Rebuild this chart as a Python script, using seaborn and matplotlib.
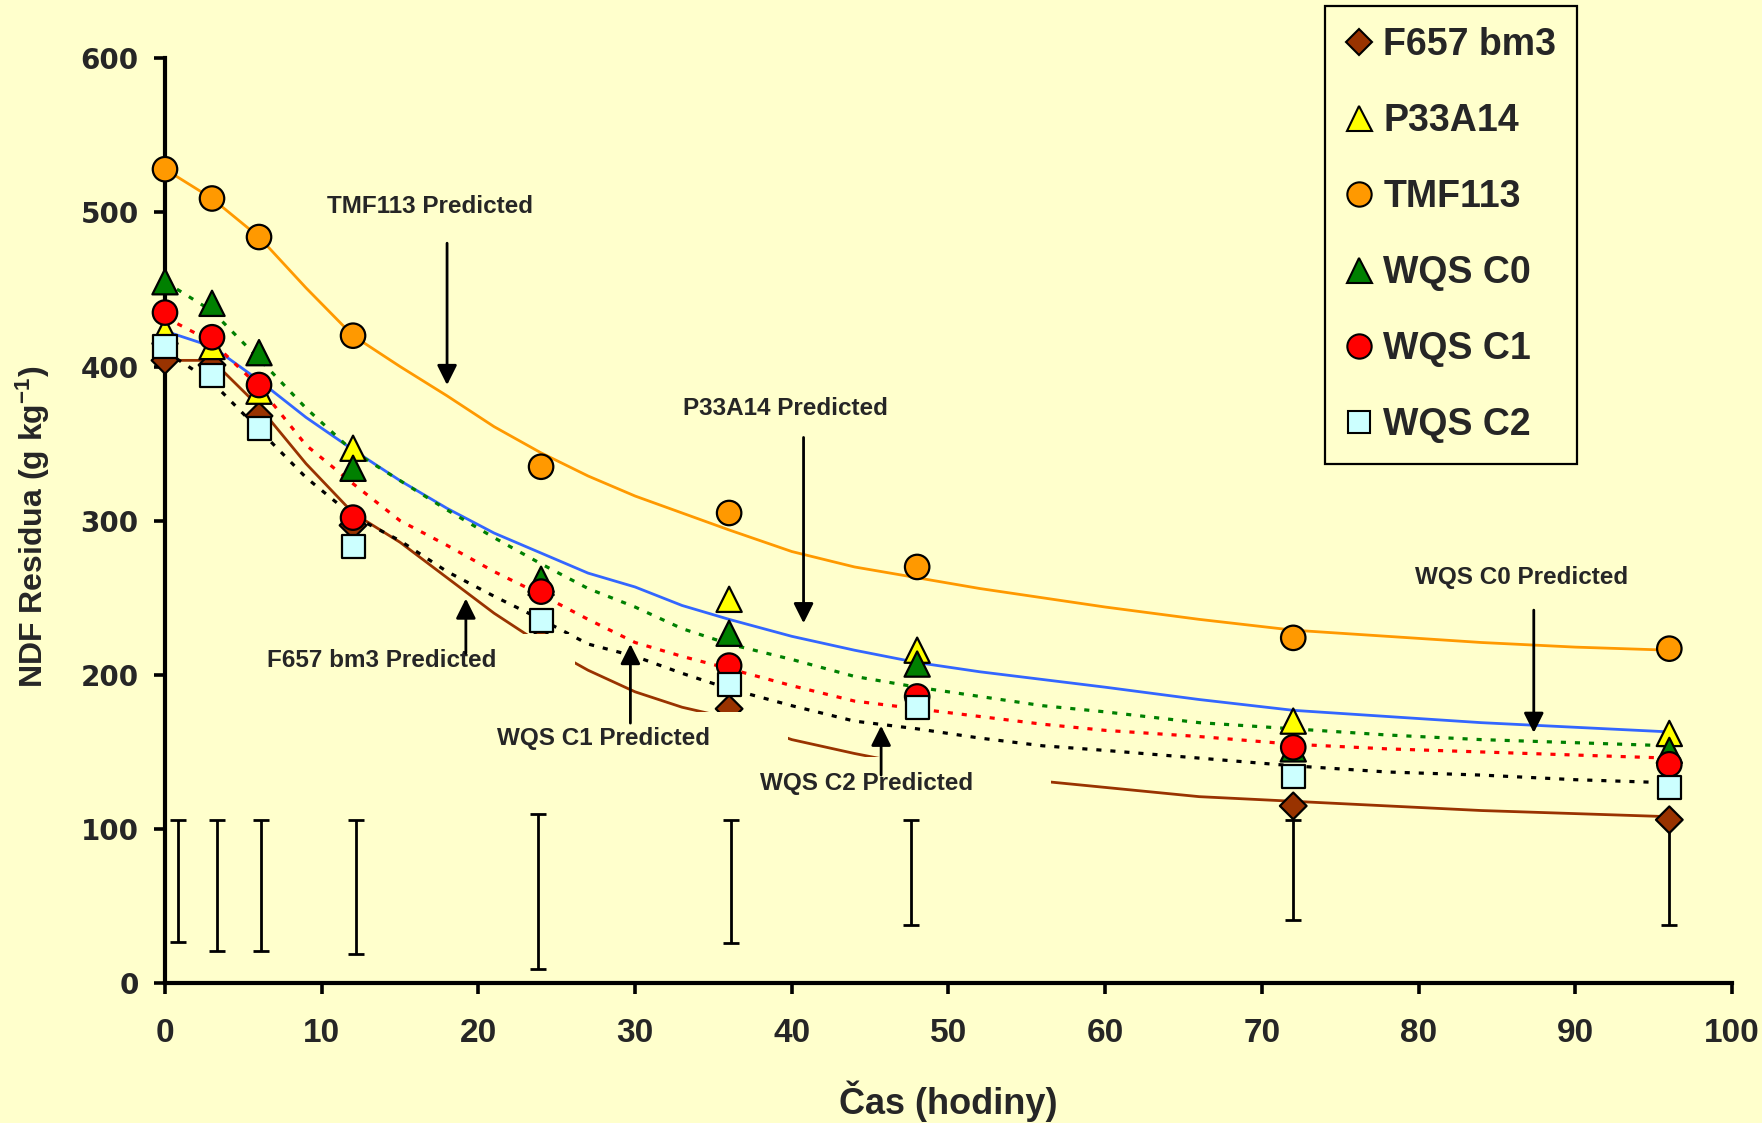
import numpy as np
import pandas as pd
import matplotlib
matplotlib.use("Agg")
import matplotlib.pyplot as plt
import seaborn as sns
from matplotlib.lines import Line2D
from matplotlib.patches import Rectangle

# ---------------- data ----------------
hours = [0, 3, 6, 12, 24, 36, 48, 72, 96]
series_names = ["F657 bm3", "P33A14", "TMF113", "WQS C0", "WQS C1", "WQS C2"]

f657_obs = [404, 401, 368, 297, 222, 178, 136, 115, 106]
p33_obs = [423, 413, 384, 347, 260, 249, 216, 170, 162]
tmf_obs = [528, 509, 484, 420, 335, 305, 270, 224, 217]
c0_obs = [455, 441, 409, 334, 262, 227, 207, 152, 151]
c1_obs = [435, 419, 388, 302, 254, 206, 186, 153, 142]
c2_obs = [413, 394, 360, 283, 235, 194, 179, 134, 127]

pred_hours = [0, 3, 6, 9, 12, 15, 18, 21, 24, 27, 30, 33, 36, 40, 44, 48,
              52, 56, 60, 66, 72, 78, 84, 90, 96]
tmf_pred = [528, 509, 484, 451, 420, 400, 381, 361, 344, 329, 316, 305, 294,
            280, 270, 263, 256, 250, 244, 236, 229, 225, 221, 218, 216]
p33_pred = [423, 413, 391, 367, 346, 326, 308, 292, 279, 266, 257, 245, 236,
            225, 216, 208, 202, 197, 192, 184, 177, 173, 169, 166, 163]
c0_pred = [455, 436, 405, 373, 345, 326, 307, 289, 272, 256, 244, 230, 220,
           210, 199, 192, 186, 180, 176, 169, 165, 161, 158, 156, 154]
c1_pred = [432, 416, 387, 349, 324, 300, 284, 267, 252, 236, 221, 212, 204,
           193, 183, 178, 173, 168, 164, 160, 155, 152, 150, 148, 146]
c2_pred = [410, 390, 359, 328, 303, 287, 267, 251, 236, 220, 212, 201, 191,
           180, 170, 165, 159, 154, 151, 146, 141, 137, 135, 132, 130]
f657_pred = [404, 404, 374, 337, 305, 286, 263, 240, 220, 203, 189, 179, 172,
             158, 149, 141, 136, 131, 127, 121, 118, 115, 112, 110, 108]

err_hours = [0.8, 3.3, 6.1, 12.2, 23.8, 36.1, 47.6, 72, 96]
err_low = [27, 21, 21, 19, 9, 26, 38, 41, 38]
err_high = [106, 106, 106, 106, 110, 106, 106, 106, 106]

x_ticks = list(range(0, 101, 10))
y_ticks = list(range(0, 601, 100))

# ---------------- style ----------------
bg = "#FFFFCC"
sns.set_theme(style="ticks", rc={"figure.facecolor": bg, "axes.facecolor": bg,
                                 "savefig.facecolor": bg})
plt.rcParams["font.family"] = ["Liberation Sans", "DejaVu Sans"]
plt.rcParams["mathtext.fontset"] = "custom"
plt.rcParams["mathtext.rm"] = "Liberation Sans:bold"
plt.rcParams["mathtext.bf"] = "Liberation Sans:bold"
plt.rcParams["mathtext.it"] = "Liberation Sans:bold:italic"

colors = {"F657 bm3": "#993300", "P33A14": "#FFFF00", "TMF113": "#FF9900",
          "WQS C0": "#008000", "WQS C1": "#FF0000", "WQS C2": "#CCFFFF"}
markers = {"F657 bm3": "D", "P33A14": "^", "TMF113": "o",
           "WQS C0": "^", "WQS C1": "o", "WQS C2": "s"}
sizes = {"F657 bm3": 185, "P33A14": 330, "TMF113": 310,
         "WQS C0": 330, "WQS C1": 310, "WQS C2": 275}

fig = plt.figure(figsize=(17.62, 11.23), dpi=100)
ax = fig.add_axes([165 / 1762, 1 - 983.2 / 1123, 1567 / 1762, 925 / 1123])

# predicted curves
dot = (0, (1.6, 2.8))
pred_specs = [
    (tmf_pred, "#FF9900", "-"),
    (p33_pred, "#3366FF", "-"),
    (f657_pred, "#993300", "-"),
    (c0_pred, "#008000", dot),
    (c1_pred, "#FF0000", dot),
    (c2_pred, "#000000", dot),
]
for vals, col, ls in pred_specs:
    lw = 2.0 if ls == "-" else 2.3
    sns.lineplot(x=pred_hours, y=vals, color=col, linestyle=ls, linewidth=lw,
                 ax=ax, zorder=2, estimator=None, sort=False)

# error bars
lo = np.array(err_low, dtype=float)
hi = np.array(err_high, dtype=float)
ax.errorbar(err_hours, lo, yerr=[np.zeros_like(lo), hi - lo], fmt="none",
            ecolor="black", elinewidth=2.0, capsize=6, capthick=2.0, zorder=2)

# observed points
obs_df = pd.DataFrame({
    "hours": hours * 6,
    "ndf": f657_obs + p33_obs + tmf_obs + c0_obs + c1_obs + c2_obs,
    "series": np.repeat(series_names, len(hours)),
})
sns.scatterplot(data=obs_df, x="hours", y="ndf", hue="series", style="series",
                size="series", sizes=sizes, markers=markers, palette=colors,
                hue_order=series_names, style_order=series_names,
                size_order=series_names, edgecolor="black", linewidth=1.6,
                legend=False, ax=ax, zorder=3, clip_on=False)

# axes styling
ax.set_xlim(0, 100)
ax.set_ylim(0, 600)
ax.set_xticks(x_ticks)
ax.set_yticks(y_ticks)
for side in ["top", "right"]:
    ax.spines[side].set_visible(False)
for side in ["left", "bottom"]:
    ax.spines[side].set_linewidth(3.0)
    ax.spines[side].set_color("black")
ax.tick_params(axis="both", direction="out", length=8, width=2.6, color="black")
ax.tick_params(axis="x", labelsize=24, pad=17)
ax.tick_params(axis="y", labelsize=20, pad=11)
for lab in ax.get_xticklabels():
    lab.set_fontweight("bold")
for lab in ax.get_yticklabels():
    lab.set_fontweight("bold")
    lab.set_fontfamily(["DejaVu Sans"])

ax.set_xlabel("Čas (hodiny)", fontsize=26, fontweight="bold")
ax.xaxis.set_label_coords(0.5, -0.105)
ax.set_ylabel(r"NDF Residua (g kg$^{-1}$)", fontsize=23, fontweight="bold")
ax.yaxis.set_label_coords(-0.072, 0.493)

# annotations
arrow_kw = dict(arrowstyle="-|>,head_length=0.6,head_width=0.3", color="black",
                lw=2.0, shrinkA=0, shrinkB=0, mutation_scale=20)
labels_spec = [
    ("TMF113 Predicted", (16.9, 503.7), (18.0, 480), (18.0, 388), False),
    ("P33A14 Predicted", (39.6, 372.6), (40.75, 354), (40.75, 233.5), False),
    ("WQS C0 Predicted", (86.6, 263.2), (87.35, 242), (87.35, 162.4), False),
    ("F657 bm3 Predicted", (13.85, 209.3), (19.2, 214), (19.2, 249.5), True),
    ("WQS C1 Predicted", (28.0, 158.9), (29.7, 168.7), (29.7, 220), True),
    ("WQS C2 Predicted", (44.75, 129.8), (45.7, 135), (45.7, 167), True),
]
texts = []
for txt, tpos, base, tip, masked in labels_spec:
    t = ax.text(tpos[0], tpos[1], txt, fontsize=17.5, fontweight="bold",
                ha="center", va="center", zorder=5)
    texts.append((t, masked))
    ax.annotate("", xy=tip, xytext=base, arrowprops=arrow_kw, zorder=5)

# legend
handles = []
leg_ms = {"F657 bm3": 13, "P33A14": 18, "TMF113": 17.5, "WQS C0": 18,
          "WQS C1": 17.5, "WQS C2": 16.5}
for name in series_names:
    handles.append(Line2D([], [], linestyle="none", marker=markers[name],
                          markersize=leg_ms[name], markerfacecolor=colors[name],
                          markeredgecolor="black", markeredgewidth=1.5))
leg = fig.legend(handles=handles, labels=series_names, loc="upper left",
                 bbox_to_anchor=(1325 / 1762, 1 - 6 / 1123), frameon=True,
                 prop=dict(family="Liberation Sans", weight="bold", size=27),
                 handlelength=0.7, handletextpad=0.3, borderpad=0.55,
                 labelspacing=1.07, borderaxespad=0, fancybox=False)
frame = leg.get_frame()
frame.set_edgecolor("black")
frame.set_linewidth(1.6)
frame.set_facecolor(bg)
frame.set_alpha(1)

# text boxes of some labels hide the curves behind them (as in the original)
fig.canvas.draw()
renderer = fig.canvas.get_renderer()
inv = ax.transData.inverted()
for t, masked in texts:
    if not masked:
        continue
    bb = t.get_window_extent(renderer)
    (x0, y0) = inv.transform((bb.x0 - 6, bb.y0 - 4))
    (x1, y1) = inv.transform((bb.x1 + 78, bb.y1 + 15))
    ax.add_patch(Rectangle((x0, y0), x1 - x0, y1 - y0, facecolor=bg,
                           edgecolor="none", zorder=4))

fig.savefig("out.png", dpi=100)
